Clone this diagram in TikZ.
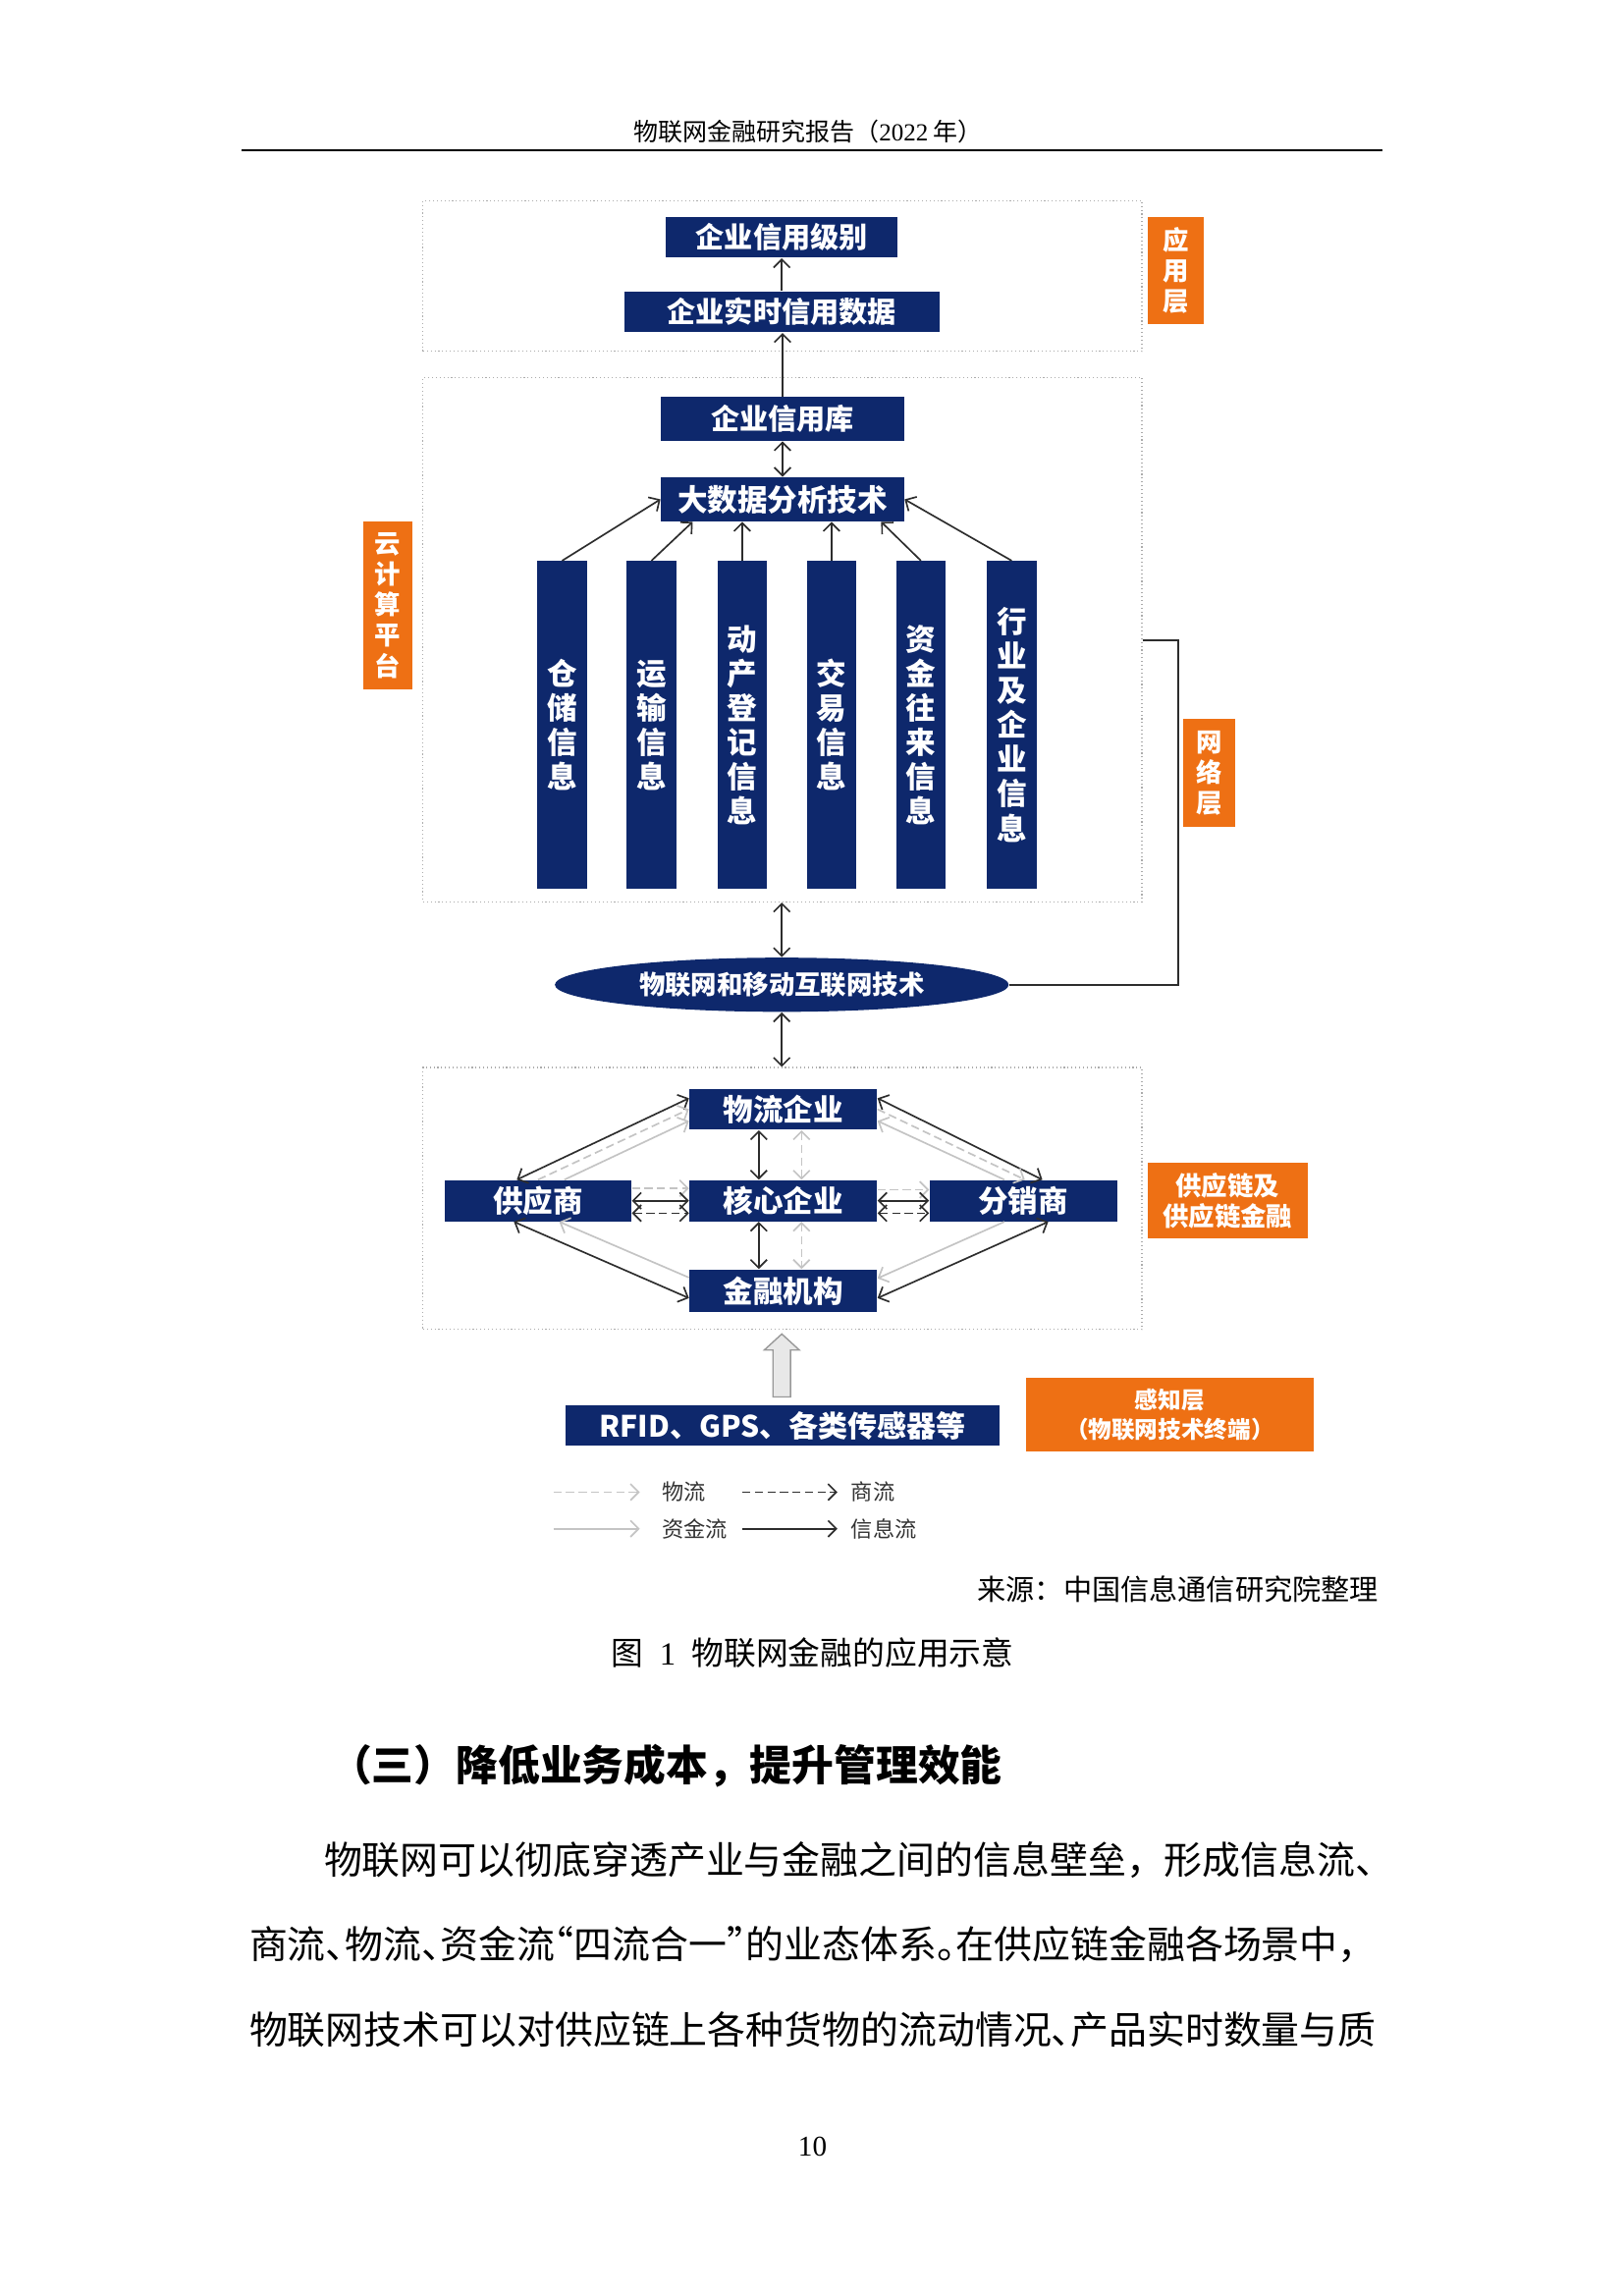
\documentclass[tikz,border=0pt]{standalone}
\usepackage{fontspec}
\setmainfont{Liberation Serif}
\newfontfamily\cjk{Noto Sans CJK SC}
\usetikzlibrary{arrows.meta,shapes.geometric,calc}
\definecolor{navy}{RGB}{14,40,108}
\definecolor{orng}{RGB}{238,112,20}
\definecolor{lg}{RGB}{196,196,196}
\definecolor{dk}{RGB}{45,45,45}
\newlength\pu \setlength\pu{0.53662pt}
\newcommand\hwl[1]{\makebox[.5em][l]{#1}}
\newcommand\hwr[1]{\makebox[.5em][r]{#1}}
\tikzset{
  >={Straight Barb[length=3pt,width=6pt]},
  navybox/.style={fill=navy, text=white, inner sep=0pt, minimum height=28\pu,
    font=\cjk\bfseries\fontsize{10.5}{12}\selectfont},
  colbox/.style={fill=navy, text=white, inner sep=0pt, minimum width=34\pu,
    minimum height=223.5\pu, align=center,
    font=\cjk\bfseries\fontsize{11}{12.6}\selectfont},
  orbox/.style={fill=orng, text=white, inner sep=0pt, align=center,
    font=\cjk\bfseries\fontsize{9.5}{11.2}\selectfont},
  region/.style={draw=gray!65, densely dotted, line width=0.4pt, inner sep=0pt},
  info/.style={draw=dk, line width=0.6pt},
  infod/.style={draw=dk, line width=0.6pt, dash pattern=on 3pt off 1.6pt},
  wuliu/.style={draw=lg, line width=0.6pt, dash pattern=on 3pt off 1.6pt},
  zijin/.style={draw=lg, line width=0.6pt},
  legtext/.style={font=\cjk\fontsize{8}{9}\selectfont, text=black!80, anchor=west, inner sep=0pt},
  bodyline/.style={anchor=west, inner sep=0pt, font=\cjk\fontsize{14}{16}\selectfont},
}
\begin{document}
\begin{tikzpicture}[x=0.53662pt,y=-0.53662pt]
\useasboundingbox (0,0) rectangle (1109,1568);
\fill[white] (0,0) rectangle (1109,1568);

% header
\node[font=\cjk\fontsize{9}{10}\selectfont, inner sep=0pt] (hdr) at (552,90) {物联网金融研究报告（{\rmfamily 2022} 年）};
\coordinate (hl1) at (165,102.5);
\coordinate (hl2) at (944,102.5);
\draw[line width=0.9pt] (hl1) -- (hl2);

% regions
\node[region, minimum width=491\pu, minimum height=103\pu] (topreg) at (534.5,188.5) {};
\node[region, minimum width=491\pu, minimum height=358\pu] (midreg) at (534.5,437) {};
\node[region, minimum width=491\pu, minimum height=179\pu] (lowreg) at (534.5,818.5) {};

% application layer
\node[navybox, minimum width=158\pu] (lvl) at (534,162) {企业信用级别};
\node[navybox, minimum width=215\pu] (rt) at (534,213) {企业实时信用数据};
\node[orbox, minimum width=38\pu, minimum height=73\pu] (appl) at (803,184.5) {应\\用\\层};

% cloud platform
\node[navybox, minimum width=166\pu, minimum height=30\pu] (lib) at (534.5,286) {企业信用库};
\node[navybox, minimum width=166\pu, minimum height=30\pu, font=\cjk\bfseries\fontsize{11}{12}\selectfont] (bda) at (534.5,341) {大数据分析技术};
\node[colbox] (c1) at (384,495) {仓\\储\\信\\息};
\node[colbox] (c2) at (445,495) {运\\输\\信\\息};
\node[colbox] (c3) at (507,495) {动\\产\\登\\记\\信\\息};
\node[colbox] (c4) at (568,495) {交\\易\\信\\息};
\node[colbox] (c5) at (629,495) {资\\金\\往\\来\\信\\息};
\node[colbox] (c6) at (691,495) {行\\业\\及\\企\\业\\信\\息};
\node[orbox, minimum width=34\pu, minimum height=115\pu] (cloud) at (265,413.5) {云\\计\\算\\平\\台};

% network layer
\node[ellipse, fill=navy, text=white, inner sep=0pt, minimum width=310\pu, minimum height=37\pu,
  font=\cjk\bfseries\fontsize{9.5}{11}\selectfont] (ell) at (534,672.5) {物联网和移动互联网技术};
\node[orbox, minimum width=36\pu, minimum height=74\pu] (netl) at (826,528) {网\\络\\层};
\coordinate (nc) at (805,437);
\draw[dk, line width=0.7pt] (midreg.east) -- (nc) |- (ell.east);

% arrows upper part
\draw[info,->] (rt.north) -- (lvl.south);
\draw[info,->] (lib.north) -- (lib.north |- rt.south);
\draw[info,<->] (lib.south) -- (bda.north);
\draw[info,->] (c1.north) -- (bda.west);
\draw[info,->] (c2.north) -- ($(bda.south west)+(22,0)$);
\draw[info,->] (c3.north) -- (c3.north |- bda.south);
\draw[info,->] (c4.north) -- (c4.north |- bda.south);
\draw[info,->] (c5.north) -- ($(bda.south east)+(-16,0)$);
\draw[info,->] (c6.north) -- (bda.east);
\draw[info,<->] (ell.north |- midreg.south) -- (ell.north);
\draw[info,<->] (ell.south) -- (ell.south |- lowreg.north);

% supply chain
\node[navybox, minimum width=128\pu, font=\cjk\bfseries\fontsize{11}{12}\selectfont] (wl) at (535,757.5) {物流企业};
\node[navybox, minimum width=128\pu, font=\cjk\bfseries\fontsize{11}{12}\selectfont] (core) at (535,820) {核心企业};
\node[navybox, minimum width=128\pu, minimum height=29\pu, font=\cjk\bfseries\fontsize{11}{12}\selectfont] (fin) at (535,881.5) {金融机构};
\node[navybox, minimum width=127.5\pu, font=\cjk\bfseries\fontsize{11}{12}\selectfont] (sup) at (367.5,820) {供应商};
\node[navybox, minimum width=128\pu, font=\cjk\bfseries\fontsize{11}{12}\selectfont] (dis) at (699,820) {分销商};
\node[orbox, minimum width=109\pu, minimum height=52\pu] (scf) at (838.5,820) {供应链及\\供应链金融};

% supplier - logistics
\draw[info,<->] ($(sup.north)+(-14.5,0)$) -- ($(wl.west)+(0,-7.5)$);
\draw[wuliu,->] (sup.north) -- (wl.west);
\draw[zijin,->] ($(sup.north)+(18,0)$) -- ($(wl.west)+(0,8)$);
% logistics - distributor
\draw[info,<->] ($(wl.east)+(0,-7.5)$) -- ($(dis.north)+(13,0)$);
\draw[wuliu,->] (wl.east) -- ($(dis.north)+(1,0)$);
\draw[zijin,->] ($(dis.north)+(-13,0)$) -- ($(wl.east)+(0,8)$);
% supplier - core
\draw[wuliu,->] ($(sup.east)+(0,-8.5)$) -- ($(core.west)+(0,-8.5)$);
\draw[info,<->] (sup.east) -- (core.west);
\draw[infod,<->] ($(sup.east)+(0,8.5)$) -- ($(core.west)+(0,8.5)$);
% core - distributor
\draw[wuliu,->] ($(core.east)+(0,-7.5)$) -- ($(dis.west)+(0,-7.5)$);
\draw[info,<->] (core.east) -- (dis.west);
\draw[infod,<->] ($(core.east)+(0,8.5)$) -- ($(dis.west)+(0,8.5)$);
% vertical
\draw[info,<->] ($(wl.south)+(-16.7,0)$) -- ($(core.north)+(-16.7,0)$);
\draw[wuliu,<->] ($(wl.south)+(12.5,0)$) -- ($(core.north)+(12.5,0)$);
\draw[info,<->] ($(core.south)+(-16.7,0)$) -- ($(fin.north)+(-16.7,0)$);
\draw[wuliu,<->] ($(core.south)+(12.5,0)$) -- ($(fin.north)+(12.5,0)$);
% supplier - finance
\draw[info,<->] ($(sup.south)+(-16.5,0)$) -- ($(fin.west)+(0,5)$);
\draw[zijin,->] ($(fin.west)+(0,-9)$) -- ($(sup.south)+(14.5,0)$);
% distributor - finance
\draw[info,<->] ($(dis.south)+(17,0)$) -- ($(fin.east)+(0,5)$);
\draw[zijin,->] ($(dis.south)+(-13,0)$) -- ($(fin.east)+(0,-8.5)$);

% perception layer
\node[navybox, minimum width=297\pu, minimum height=27\pu, font=\cjk\bfseries\fontsize{10.8}{12}\selectfont] (rfid) at (534.5,973.5) {RFID、GPS、各类传感器等};
\node[orbox, minimum width=196\pu, minimum height=50\pu, font=\cjk\bfseries\fontsize{8.5}{11}\selectfont] (sense) at (799,966) {感知层\\（物联网技术终端）};
\draw[draw=gray!80, fill=gray!18, line width=0.5pt]
  (528,954) -- (528,922) -- (522,922) -- (534,911) -- (546,922) -- (540,922) -- (540,954) -- cycle;

% legend
\coordinate (la1) at (378,1019); \coordinate (lb1) at (437,1019);
\coordinate (la2) at (507,1019); \coordinate (lb2) at (572,1019);
\coordinate (la3) at (378,1044); \coordinate (lb3) at (437,1044);
\coordinate (la4) at (507,1044); \coordinate (lb4) at (572,1044);
\draw[wuliu,->] (la1) -- (lb1);
\draw[infod,->] (la2) -- (lb2);
\draw[zijin,->] (la3) -- (lb3);
\draw[info,->] (la4) -- (lb4);
\node[legtext] (t1) at (452,1019) {物流};
\node[legtext] (t2) at (581,1019) {商流};
\node[legtext] (t3) at (452,1044) {资金流};
\node[legtext] (t4) at (581,1044) {信息流};

% source and caption
\node[anchor=east, inner sep=0pt, font=\cjk\fontsize{10.5}{12}\selectfont] (src) at (942,1085) {来源：中国信息通信研究院整理};
\node[inner sep=0pt, font=\cjk\fontsize{11.8}{14}\selectfont] (cap) at (555,1129) {图\hspace{.5em}{\rmfamily 1}\hspace{.5em}物联网金融的应用示意};

% heading and body
\node[anchor=west, inner sep=0pt, font=\cjk\bfseries\fontsize{15.4}{18}\selectfont] (head) at (225,1206) {（三）降低业务成本，提升管理效能};
\node[bodyline] (p1) at (221,1270) {物联网可以彻底穿透产业与金融之间的信息壁垒，形成信息流、};
\node[bodyline] (p2) at (170,1328) {商流\hwl{、}物流\hwl{、}资金流\hwr{“}四流合一\hwl{”}的业态体系\hwl{。}在供应链金融各场景中，};
\node[bodyline] (p3) at (170,1386) {物联网技术可以对供应链上各种货物的流动情况\hwl{、}产品实时数量与质};

% page number
\node[inner sep=0pt, font=\rmfamily\fontsize{10.5}{12}\selectfont] (pg) at (555,1466) {10};
\end{tikzpicture}
\end{document}
